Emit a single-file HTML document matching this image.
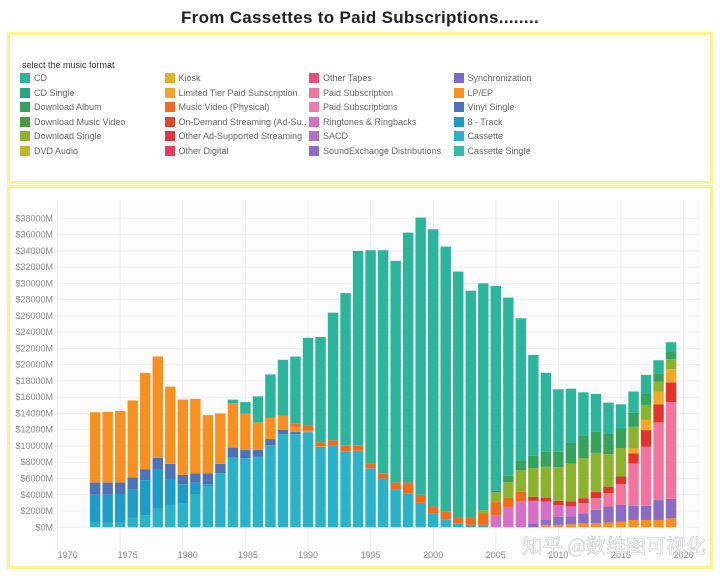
<!DOCTYPE html>
<html><head><meta charset="utf-8">
<style>
html,body{margin:0;padding:0;background:#fff;width:720px;height:576px;overflow:hidden;font-family:"Liberation Sans","Noto Sans CJK SC",sans-serif;}
#title{position:absolute;left:0;top:8px;width:720px;text-align:center;font-size:17px;font-weight:bold;color:#222;letter-spacing:0.3px;}
#legend-box{position:absolute;left:7px;top:32px;width:700px;height:146px;border:3px solid #f9f58c;}
#chart-box{position:absolute;left:7px;top:185px;width:700px;height:378px;border:3px solid #f9f58c;}
.lg-title{position:absolute;left:12px;top:25px;font-size:9px;color:#333;}
.lg{position:absolute;font-size:9px;color:#666;white-space:nowrap;height:11px;line-height:11px;}
.lg span.sw{display:inline-block;width:10px;height:10px;vertical-align:top;margin-right:4px;}
svg{position:absolute;left:0;top:0;}
</style></head><body>
<div id="title">From Cassettes to Paid Subscriptions........</div>
<div id="legend-box">
<div class="lg-title">select the music format</div>
</div>
<div id="chart-box"></div>
<svg id="chart" width="720" height="576"></svg>
<script>
const years=[];for(let y=1973;y<=2019;y++)years.push(y);
const yTicks=[0,2000,4000,6000,8000,10000,12000,14000,16000,18000,20000,22000,24000,26000,28000,30000,32000,34000,36000,38000];
const xTicks=[1970,1975,1980,1985,1990,1995,2000,2005,2010,2015,2020];
// values in $M, years 1973..2019
const cassette=[600,600,600,1200,1500,2300,2800,2900,4000,5000,6650,8550,8500,8700,10100,11450,11450,11700,9900,10100,9300,9400,7250,6000,4700,4200,3000,1650,1000,500,300,300,0,0,0,0,0,0,0,0,0,0,0,0,0,0,0];
const eightTrack=[3400,3400,3500,3500,4300,4800,3200,2400,1500,300,0,0,0,0,0,0,0,0,0,0,0,0,0,0,0,0,0,0,0,0,0,0,0,0,0,0,0,0,0,0,0,0,0,0,0,0,0];
const vinylSingle=[1500,1500,1400,1450,1350,1450,1800,1150,1150,1350,1150,1250,1000,800,750,550,300,0,0,0,0,0,0,0,0,0,0,0,0,0,0,0,0,0,0,0,0,0,0,0,0,0,0,0,0,0,0];
const lpEp=[8650,8700,8800,9450,11850,12450,9500,9250,9150,7150,6200,5450,4500,3400,2600,1750,600,200,100,0,0,0,0,0,0,0,0,0,0,0,0,0,0,0,0,0,300,300,370,500,500,600,700,900,900,900,1100];
const soundExchange=[0,0,0,0,0,0,0,0,0,0,0,0,0,0,0,0,0,0,0,0,0,0,0,0,0,0,0,0,0,0,0,0,0,0,0,500,600,1000,950,1230,1650,1950,2050,1750,1750,2450,2400];
const ringtones=[0,0,0,0,0,0,0,0,0,0,0,0,0,0,0,0,0,0,0,0,0,0,0,0,0,0,0,0,0,0,0,0,1500,2500,3150,2750,2250,1450,1250,0,0,0,0,0,0,0,0];
const paidSub=[0,0,0,0,0,0,0,0,0,0,0,0,0,0,0,0,0,0,0,0,0,0,0,0,0,0,0,0,0,0,0,0,0,0,0,0,0,0,0,1250,1450,1650,2550,5200,7250,9550,11900];
const musicVideo=[0,0,0,0,0,0,0,0,0,0,0,0,0,0,0,0,400,600,450,600,800,700,650,650,800,1300,1000,900,900,700,900,1400,1600,1200,1200,0,0,0,0,0,0,0,0,0,0,0,0];
const onDemand=[0,0,0,0,0,0,0,0,0,0,0,0,0,0,0,0,0,0,0,0,0,0,0,0,0,0,0,0,0,0,0,0,0,0,0,500,500,500,600,600,750,800,950,1250,2050,2200,2400];
const otherAd=[0,0,0,0,0,0,0,0,0,0,0,0,0,0,0,0,0,0,0,0,0,0,0,0,0,0,0,0,0,0,0,0,0,0,0,0,0,0,0,0,0,0,0,600,1250,1550,1650];
const downloadSingle=[0,0,0,0,0,0,0,0,0,0,0,0,0,0,0,0,0,0,0,0,0,0,0,0,0,0,0,0,0,0,0,400,1200,1850,2650,3500,3800,4150,4650,4900,4800,4000,3500,2650,1850,1250,1230];
const downloadAlbum=[0,0,0,0,0,0,0,0,0,0,0,0,0,0,0,0,0,0,0,0,0,0,0,0,0,0,0,0,0,0,0,0,200,800,1200,1550,1850,1900,2550,2800,2650,2550,2400,1750,1450,1000,950];
const cd=[0,0,0,0,0,0,0,0,0,0,0,450,1400,3200,5350,6850,8250,10800,12950,15700,18700,23900,26170,27420,27260,30740,34090,34100,32620,30250,27900,27900,25180,21900,17500,12400,9700,7670,6680,5320,4600,3780,2980,2600,2240,1640,1120];
const seriesNames=["cassette","eight-track","vinyl-single","lp-ep","soundexchange","ringtones","paid-subscription","music-video","on-demand-streaming","other-ad-supported","download-single","download-album","cd"];
const seriesData=[cassette,eightTrack,vinylSingle,lpEp,soundExchange,ringtones,paidSub,musicVideo,onDemand,otherAd,downloadSingle,downloadAlbum,cd];
const seriesColors=["#2ab2c8","#1c9dc8","#4e72b8","#f7901e","#8a6cc4","#d86fc6","#f5739f","#f26b1d","#e2342a","#f5a623","#8db32e","#35a35c","#2bb59a"];
const legendItems=[
["CD","#2bb59a"],["CD Single","#22a67e"],["Download Album","#35a35c"],["Download Music Video","#4a9b3b"],["Download Single","#8db32e"],["DVD Audio","#c2b82a"],
["Kiosk","#e0b424"],["Limited Tier Paid Subscription","#f8a42a"],["Music Video (Physical)","#f26b1d"],["On-Demand Streaming (Ad-Su..","#e2452a"],["Other Ad-Supported Streaming","#e2343a"],["Other Digital","#ea3a5e"],
["Other Tapes","#ee4d78"],["Paid Subscription","#f5739f"],["Paid Subscriptions","#f07ab0"],["Ringtones & Ringbacks","#d86fc6"],["SACD","#b46fcc"],["SoundExchange Distributions","#8a6cc4"],
["Synchronization","#7a6cc8"],["LP/EP","#f7901e"],["Vinyl Single","#4e72b8"],["8 - Track","#1c9dc8"],["Cassette","#2ab2c8"],["Cassette Single","#35bcb0"]];

const lb=document.getElementById('legend-box');
legendItems.forEach((it,i)=>{
  const col=Math.floor(i/6),row=i%6;
  const d=document.createElement('div');
  d.className='lg';
  
  
  d.style.left=(10+col*144.5)+'px';
  d.style.top=(38+row*14.5)+'px';
  d.innerHTML='<span class="sw" style="background:'+it[1]+'"></span>'+it[0];
  lb.appendChild(d);
});

const NS='http://www.w3.org/2000/svg';
const svg=document.getElementById('chart');
function yS(v){return 527.3-v*(309/38000);}
function xS(yr){return 57.6+(yr-1970)*12.52;}
function mk(tag,attrs,parent){const e=document.createElementNS(NS,tag);for(const k in attrs)e.setAttribute(k,attrs[k]);(parent||svg).appendChild(e);return e;}
const grid=mk('g',{});


mk('rect',{x:55,y:200,width:645,height:352,fill:'#fcfcfc'},grid);
yTicks.forEach(t=>{
  mk('line',{x1:55,x2:700,y1:yS(t),y2:yS(t),stroke:'#efefef','stroke-width':1},grid);
  const tx=mk('text',{x:53,y:yS(t)+3,'text-anchor':'end','font-size':9,fill:'#888','font-family':'Liberation Sans, sans-serif'});
  tx.textContent='$'+t+'M';
  
  
});
xTicks.forEach(t=>{
  mk('line',{x1:xS(t),x2:xS(t),y1:200,y2:552,stroke:'#eeeeee','stroke-width':1},grid);
  const tx=mk('text',{x:xS(t)+(t<1990?(1990-t)*0.5:0),y:558,'text-anchor':'middle','font-size':9,fill:'#888','font-family':'Liberation Sans, sans-serif'});
  tx.textContent=t;
  
  
});
const bars=mk('g',{});


years.forEach((yr,i)=>{
  let base=0;
  seriesData.forEach((s,k)=>{
    const v=s[i];if(!v)return;
    const r=mk('rect',{x:xS(yr)-5.2,width:10.4,y:yS(base+v),height:yS(base)-yS(base+v),fill:seriesColors[k]},bars);
    
    
    base+=v;
  });
});
const wm=mk('text',{x:706,y:553,'text-anchor':'end','font-size':20,fill:'#ffffff','fill-opacity':0.85,stroke:'#999','stroke-opacity':0.5,'stroke-width':0.6,'font-family':'Noto Sans CJK SC, sans-serif'});
wm.textContent='知乎 @数维图可视化';


</script>
</body></html>
